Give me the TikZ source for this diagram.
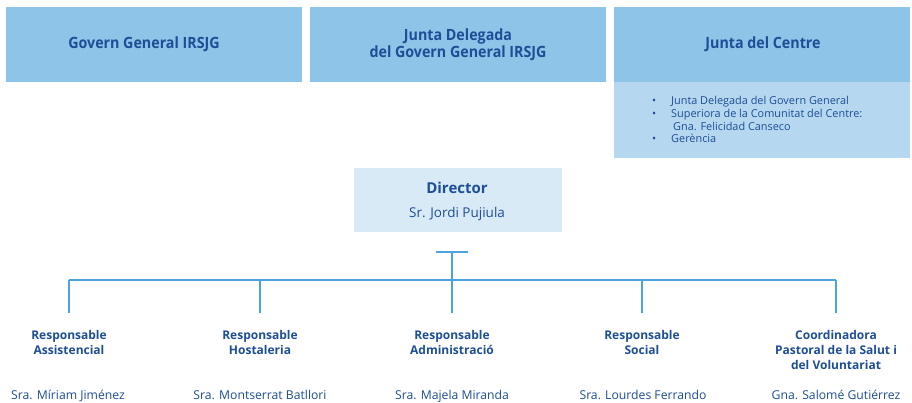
\documentclass[tikz,border=0pt]{standalone}
\usepackage{fontspec}
\setmainfont{Open Sans}
\newfontfamily\condfont[FakeStretch=0.92]{Open Sans}
\definecolor{boxA}{HTML}{8DC4E8}
\definecolor{boxB}{HTML}{B5D8F0}
\definecolor{boxC}{HTML}{D9EAF7}
\definecolor{txt}{HTML}{1D4E96}
\definecolor{ln}{HTML}{4BA3E0}
\begin{document}
\begin{tikzpicture}[x=1pt,y=-1pt,
  topbox/.style={fill=boxA,draw=none,minimum width=296pt,minimum height=75pt,anchor=north west,inner sep=0pt},
  toptext/.style={text=txt,font=\condfont\bfseries\fontsize{15.5}{17.5}\selectfont,align=center,inner sep=0pt},
  role/.style={text=txt,font=\bfseries\fontsize{12}{15}\selectfont,align=center,anchor=north,inner sep=0pt},
  person/.style={text=txt,font=\fontsize{12.2}{14}\selectfont,anchor=base,inner sep=0pt},
  conn/.style={draw=ln,line width=1.1pt}]
\useasboundingbox (0,0) rectangle (912,403);
\fill[white] (0,0) rectangle (912,403);
\node[topbox] (g1) at (6,7) {};
\node[topbox] (g2) at (310,7) {};
\node[topbox] (g3) at (614,7) {};
\node[toptext] (g1t) at (144,44.5) {Govern General IRSJG};
\node[toptext] (g2t) at (458,44.5) {Junta Delegada\\del Govern General IRSJG};
\node[toptext] (g3t) at (763,44.5) {Junta del Centre};
\node[fill=boxB,minimum width=296pt,minimum height=76pt,anchor=north west,inner sep=0pt] (g3b) at (614,82) {};
\begin{scope}[every node/.style={text=txt,font=\fontsize{10.9}{12}\selectfont,anchor=base west,inner sep=0pt}]
\node (b1) at (652,105) {•};
\node (t1) at (671,105) {Junta Delegada del Govern General};
\node (b2) at (652,118) {•};
\node (t2) at (671,118) {Superiora de la Comunitat del Centre:};
\node (t3) at (673,131) {Gna. Felicidad Canseco};
\node (b4) at (652,143) {•};
\node (t4) at (671,143) {Gerència};
\end{scope}
\node[fill=boxC,minimum width=208pt,minimum height=64pt,anchor=north west,inner sep=0pt] (dir) at (354,168) {};
\node[text=txt,font=\bfseries\fontsize{15}{16}\selectfont,anchor=base] (dirt) at (457,194) {Director};
\node[text=txt,font=\fontsize{13.5}{16}\selectfont,anchor=base] (dirn) at (457,218) {Sr. Jordi Pujiula};
\coordinate (tl) at (436,252);
\coordinate (tr) at (468,252);
\coordinate (tm) at (452,252);
\coordinate (hl) at (69,280);
\coordinate (hr) at (836,280);
\draw[conn] (tl) -- (tr);
\draw[conn] (tm) -- (452,313);
\draw[conn] (hl) -- (hr);
\foreach \x/\n in {69/a,260/b,452/c,642/d,836/e}{
  \coordinate (d\n) at (\x,313);
  \draw[conn] (\x,280) -- (d\n);
}
\node[role] (r1) at (69,330) {Responsable\\Assistencial};
\node[role] (r2) at (260,330) {Responsable\\Hostaleria};
\node[role] (r3) at (452,330) {Responsable\\Administració};
\node[role] (r4) at (642,330) {Responsable\\Social};
\node[role] (r5) at (836,330) {Coordinadora\\Pastoral de la Salut i\\del Voluntariat};
\node[person] (p1) at (68,399) {Sra. Míriam Jiménez};
\node[person] (p2) at (260,399) {Sra. Montserrat Batllori};
\node[person] (p3) at (452,399) {Sra. Majela Miranda};
\node[person] (p4) at (643,399) {Sra. Lourdes Ferrando};
\node[person] (p5) at (836,399) {Gna. Salomé Gutiérrez};
\end{tikzpicture}
\end{document}
